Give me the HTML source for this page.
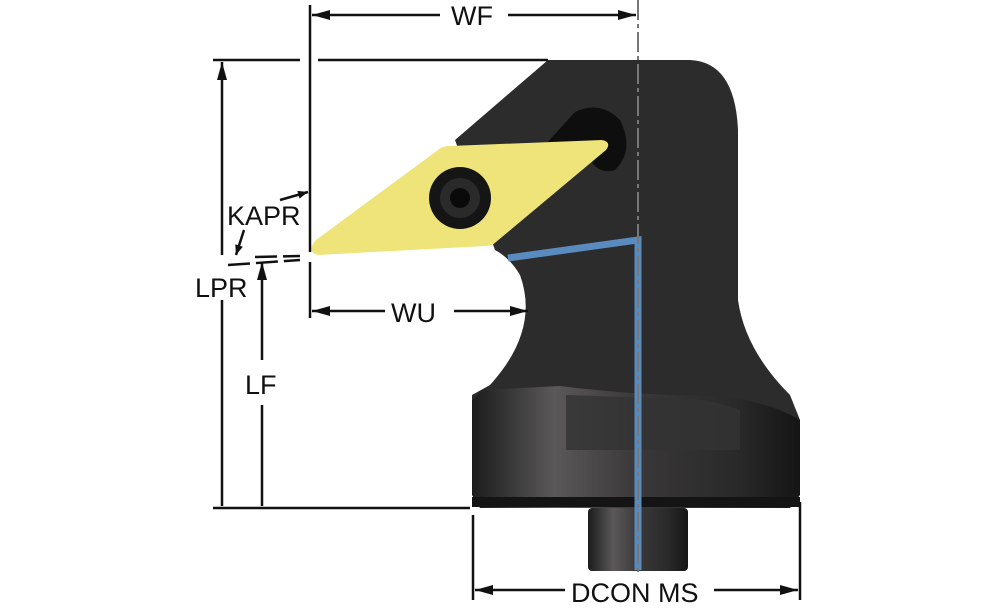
<!DOCTYPE html>
<html><head><style>body{margin:0;background:#fff}svg{display:block}text{font-family:"Liberation Sans",sans-serif;font-size:27px;fill:#111}</style></head>
<body>
<svg width="1000" height="611" viewBox="0 0 1000 611" xmlns="http://www.w3.org/2000/svg">
<defs>
<linearGradient id="g" x1="0" x2="1" y1="0" y2="0">
<stop offset="0" stop-color="#1c1c1c"/><stop offset="0.25" stop-color="#5a5858"/><stop offset="0.5" stop-color="#3a3838"/><stop offset="0.8" stop-color="#2a2a2a"/><stop offset="1" stop-color="#151515"/></linearGradient>
<marker id="a" markerWidth="10" markerHeight="8" refX="10" refY="4" orient="auto" markerUnits="userSpaceOnUse"><path d="M0,0 L10,4 L0,8 Z" fill="#111"/></marker>
<marker id="b" markerWidth="18" markerHeight="10" refX="18" refY="5" orient="auto" markerUnits="userSpaceOnUse"><path d="M0,0 L18,5 L0,10 Z" fill="#111"/></marker>
</defs>
<path d="M455,140 L548,60 L690,60 Q735,62 738,130 L738,300 Q745,350 790,395 L800,420 L472,420 L472,395 L490,385 Q540,330 520,275 Q510,258 495,250 Z" fill="#2c2c2c"/>
<path d="M482,390 L560,386 Q640,396 720,396 Q770,402 800,420 L800,495 L790,508 L480,508 L472,495 L472,400 Z" fill="url(#g)"/>
<path d="M566,395 L566,450 L740,450 L740,410 Q700,395 650,398 Z" fill="#333" opacity="0.8"/>
<rect x="472" y="497" width="328" height="10" fill="#141414"/>
<rect x="588" y="508" width="100" height="63" rx="4" fill="url(#g)"/>
<path d="M545,145 L575,112 Q600,100 620,120 Q635,150 615,170 Q600,175 590,160 Z" fill="#0e0e0e"/>
<path d="M316,240 L438,150 Q442,146 450,146 L602,140 Q612,142 606,150 L496,242 Q492,246 485,246 L318,255 Q306,252 316,240 Z" fill="#efe47a"/>
<circle cx="460" cy="198" r="31" fill="#151515"/>
<circle cx="460" cy="198" r="20" fill="#2a2a2a"/>
<circle cx="460" cy="198" r="10" fill="#0a0a0a"/>
<polyline points="508,258 638,240 638,570" fill="none" stroke="#5a8bbf" stroke-width="7"/>
<line x1="638" y1="0" x2="638" y2="572" stroke="#777" stroke-width="2" stroke-dasharray="20,4,4,4"/>
<g stroke="#111" stroke-width="2.5" fill="none">
<line x1="310" y1="5" x2="310" y2="252"/>
<line x1="310" y1="262" x2="310" y2="318"/>
<line x1="213" y1="60" x2="300" y2="60"/>
<line x1="318" y1="60" x2="548" y2="60"/>
<line x1="213" y1="508" x2="470" y2="508"/>
<line x1="473" y1="515" x2="473" y2="600"/>
<line x1="800" y1="502" x2="800" y2="600"/>
<line x1="255" y1="257" x2="300" y2="256" stroke-dasharray="22,6"/>
<line x1="228" y1="265" x2="300" y2="260" stroke-dasharray="22,6"/>
<line x1="440" y1="15" x2="312" y2="15" marker-end="url(#b)"/>
<line x1="508" y1="15" x2="636" y2="15" marker-end="url(#b)"/>
<line x1="222" y1="255" x2="222" y2="62" marker-end="url(#b)"/>
<line x1="222" y1="300" x2="222" y2="506"/>
<line x1="262" y1="360" x2="262" y2="262" marker-end="url(#b)"/>
<line x1="262" y1="405" x2="262" y2="506"/>
<line x1="385" y1="311" x2="312" y2="311" marker-end="url(#b)"/>
<line x1="454" y1="311" x2="528" y2="311" marker-end="url(#b)"/>
<line x1="565" y1="590" x2="475" y2="590" marker-end="url(#b)"/>
<line x1="714" y1="590" x2="798" y2="590" marker-end="url(#b)"/>
<line x1="280" y1="200" x2="308" y2="192" marker-end="url(#a)"/>
<line x1="244" y1="230" x2="236" y2="255" marker-end="url(#a)"/>
</g>
<text x="451" y="25">WF</text>
<text x="227" y="225">KAPR</text>
<text x="195" y="297">LPR</text>
<text x="245" y="394">LF</text>
<text x="391" y="322">WU</text>
<text x="571" y="602">DCON MS</text>
</svg>
</body></html>
